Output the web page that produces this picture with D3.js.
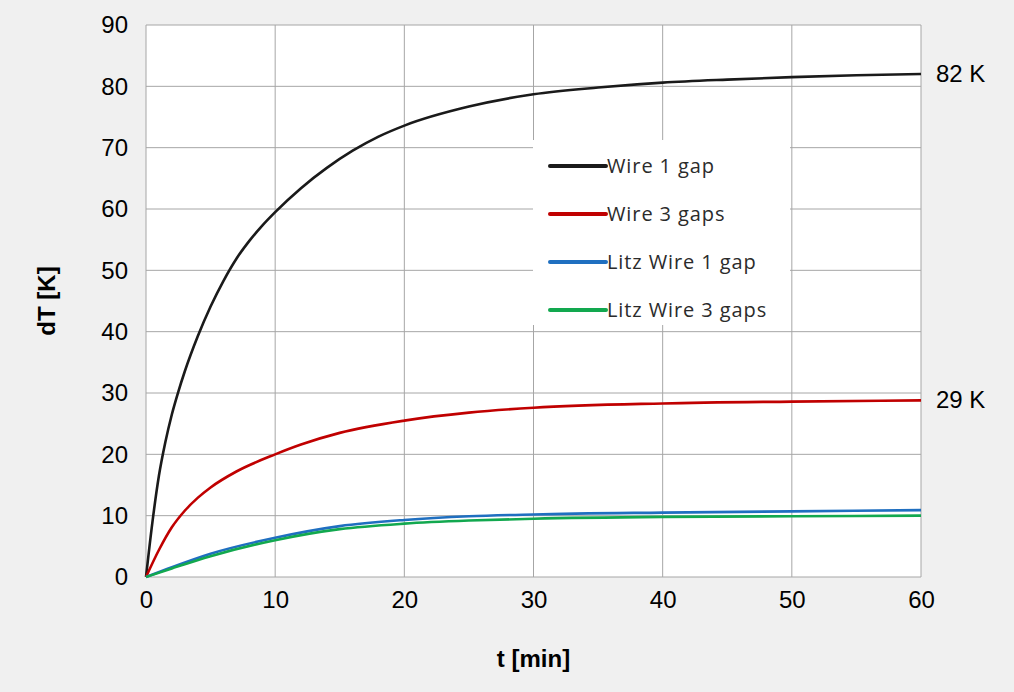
<!DOCTYPE html>
<html>
<head>
<meta charset="utf-8">
<script src="https://cdn.jsdelivr.net/npm/d3@7"></script>
<style>
  html, body { margin: 0; padding: 0; background: #f0f0f0; }
  svg { display: block; }
  .tick text { font-family: "Liberation Sans", Arial, sans-serif; }
</style>
</head>
<body>
<svg width="1014" height="692"></svg>
<script>
// time points (min) and measured temperature rise (K)
const timeWire1 = [0, 0.5, 1, 1.5, 2, 2.5, 3, 4, 5, 6, 7, 8, 9, 10, 12, 14, 16, 18, 20, 25, 30, 35, 40, 45, 50, 55, 60];
const dtWire1   = [0, 9, 16.5, 22, 26.5, 30.2, 33.5, 39.2, 44.1, 48.3, 51.9, 54.8, 57.3, 59.5, 63.4, 66.7, 69.5, 71.8, 73.6, 76.7, 78.7, 79.8, 80.6, 81.1, 81.5, 81.8, 82];

const timeWire3 = [0, 1, 2, 3, 4, 5, 7, 10, 12, 15, 20, 25, 30, 40, 50, 60];
const dtWire3   = [0, 4.4, 8.1, 10.8, 12.9, 14.6, 17.2, 20.0, 21.6, 23.5, 25.5, 26.8, 27.6, 28.3, 28.6, 28.8];

const timeLitz = [0, 2, 5, 10, 15, 20, 25, 30, 40, 50, 60];
const dtLitz1  = [0, 1.6, 3.8, 6.4, 8.3, 9.3, 9.9, 10.2, 10.5, 10.7, 10.9];
const dtLitz3  = [0, 1.4, 3.4, 6.0, 7.8, 8.7, 9.2, 9.5, 9.8, 9.9, 10.0];

const seriesNames  = ["Wire 1 gap", "Wire 3 gaps", "Litz Wire 1 gap", "Litz Wire 3 gaps"];
const seriesColors = ["#1a1a1a", "#c00000", "#1f6fc0", "#12a84f"];

const xTicks = [0, 10, 20, 30, 40, 50, 60];
const yTicks = [0, 10, 20, 30, 40, 50, 60, 70, 80, 90];
const endLabels = [{ v: 82, text: "82 K" }, { v: 29, text: "29 K" }];

const series = [
    { name: seriesNames[0], t: timeWire1, v: dtWire1 },
    { name: seriesNames[1], t: timeWire3, v: dtWire3 },
    { name: seriesNames[2], t: timeLitz, v: dtLitz1 },
    { name: seriesNames[3], t: timeLitz, v: dtLitz3 }
];

const svg = d3.select("svg");
const plot = { left: 146, right: 921, top: 25, bottom: 577 };

const x = d3.scaleLinear().domain([0, 60]).range([plot.left, plot.right]);
const y = d3.scaleLinear().domain([0, 90]).range([plot.bottom, plot.top]);

// plot background
svg.append("rect")
    .attr("x", plot.left).attr("y", plot.top)
    .attr("width", plot.right - plot.left).attr("height", plot.bottom - plot.top)
    .attr("fill", "#ffffff");

// gridlines
svg.append("g").selectAll("line").data(yTicks).join("line")
    .attr("x1", plot.left).attr("x2", plot.right)
    .attr("y1", d => y(d)).attr("y2", d => y(d))
    .attr("stroke", "#a6a6a6").attr("stroke-width", 1);
svg.append("g").selectAll("line").data(xTicks).join("line")
    .attr("x1", d => x(d)).attr("x2", d => x(d))
    .attr("y1", plot.top).attr("y2", plot.bottom)
    .attr("stroke", "#a6a6a6").attr("stroke-width", 1);

// axes (labels only, Excel style)
const xAxis = svg.append("g")
    .attr("transform", `translate(0,${plot.bottom})`)
    .call(d3.axisBottom(x).tickValues(xTicks).tickSize(0).tickPadding(14));
const yAxis = svg.append("g")
    .attr("transform", `translate(${plot.left},0)`)
    .call(d3.axisLeft(y).tickValues(yTicks).tickSize(0).tickPadding(18));
[xAxis, yAxis].forEach(a => {
    a.select(".domain").remove();
    a.selectAll("text").attr("font-size", 24).attr("fill", "#000");
});

// legend box
const lg = { x: 533, y: 140, w: 257, h: 185 };
svg.append("rect")
    .attr("x", lg.x).attr("y", lg.y).attr("width", lg.w).attr("height", lg.h)
    .attr("fill", "#ffffff");

// curves
const line = d3.line().x(d => x(d[0])).y(d => y(d[1])).curve(d3.curveMonotoneX);
svg.append("g").selectAll("path").data(series).join("path")
    .attr("d", s => line(s.t.map((t, i) => [t, s.v[i]])))
    .attr("fill", "none")
    .attr("stroke", (s, i) => seriesColors[i])
    .attr("stroke-width", 2.6);

// legend entries
const legend = svg.append("g").selectAll("g").data(seriesNames).join("g")
    .attr("transform", (d, i) => `translate(550,${166 + i * 48})`);
legend.append("line")
    .attr("x1", 0).attr("x2", 56)
    .attr("stroke", (d, i) => seriesColors[i])
    .attr("stroke-width", 4).attr("stroke-linecap", "round");
legend.append("text")
    .attr("x", 57).attr("dy", "0.35em")
    .attr("font-family", "'Open Sans', sans-serif")
    .attr("font-size", 20)
    .attr("letter-spacing", 0.9)
    .attr("fill", "#2b2b2b")
    .text(d => d);

// end value labels
svg.append("g").selectAll("text").data(endLabels).join("text")
    .attr("x", 936).attr("y", d => y(d.v))
    .attr("dy", "0.35em")
    .attr("font-family", "Liberation Sans, Arial, sans-serif")
    .attr("font-size", 24)
    .text(d => d.text);

// axis titles
svg.append("text")
    .attr("x", (plot.left + plot.right) / 2).attr("y", 667)
    .attr("text-anchor", "middle")
    .attr("font-family", "Liberation Sans, Arial, sans-serif")
    .attr("font-size", 24).attr("font-weight", "bold")
    .text("t [min]");
svg.append("text")
    .attr("transform", `translate(55,${(plot.top + plot.bottom) / 2}) rotate(-90)`)
    .attr("text-anchor", "middle")
    .attr("font-family", "Liberation Sans, Arial, sans-serif")
    .attr("font-size", 24).attr("font-weight", "bold")
    .text("dT [K]");
</script>
</body>
</html>
